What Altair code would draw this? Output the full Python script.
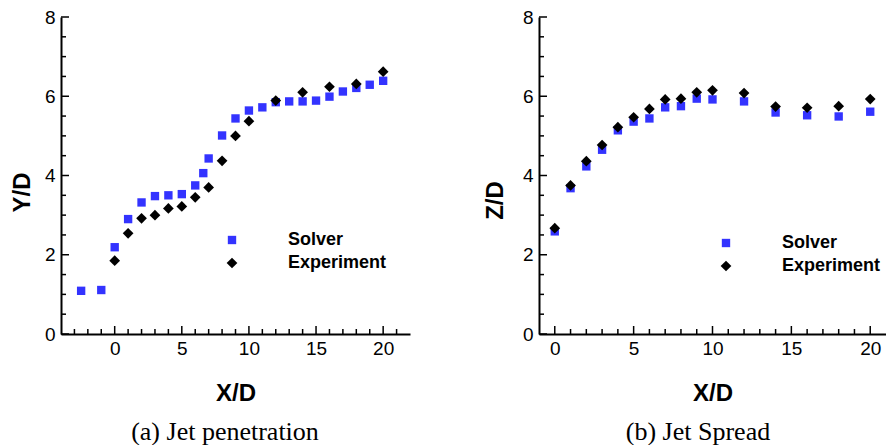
import altair as alt
import pandas as pd

# ---- data ----
pen_solver_x = [-2.5, -1, 0, 1, 2, 3, 4, 5, 6, 6.6, 7, 8, 9, 10, 11, 12, 13, 14, 15, 16, 17, 18, 19, 20]
pen_solver_y = [1.09, 1.11, 2.19, 2.90, 3.32, 3.48, 3.50, 3.53, 3.75, 4.06, 4.43, 5.01, 5.44, 5.64, 5.72, 5.85, 5.87, 5.87, 5.89, 5.99, 6.12, 6.21, 6.29, 6.39]
pen_exp_x = [0, 1, 2, 3, 4, 5, 6, 7, 8, 9, 10, 12, 14, 16, 18, 20]
pen_exp_y = [1.85, 2.54, 2.92, 3.00, 3.17, 3.22, 3.45, 3.70, 4.37, 5.00, 5.37, 5.89, 6.10, 6.24, 6.31, 6.62]

spr_x = [0, 1, 2, 3, 4, 5, 6, 7, 8, 9, 10, 12, 14, 16, 18, 20]
spr_solver_y = [2.59, 3.68, 4.23, 4.65, 5.14, 5.36, 5.44, 5.72, 5.75, 5.94, 5.92, 5.87, 5.59, 5.52, 5.49, 5.61]
spr_exp_y = [2.67, 3.75, 4.36, 4.77, 5.22, 5.47, 5.68, 5.92, 5.94, 6.10, 6.15, 6.08, 5.74, 5.71, 5.75, 5.93]

series_names = ["Solver", "Experiment"]
x_major = [0, 5, 10, 15, 20]
y_major = [0, 2, 4, 6, 8]
y_minor = [0.5, 1, 1.5, 2.5, 3, 3.5, 4.5, 5, 5.5, 6.5, 7, 7.5]
pen_x_minor = [v for v in range(-3, 22) if v % 5 != 0]
spr_x_minor = [v for v in range(0, 21) if v % 5 != 0]

BLUE = "#3333ff"
SANS = "Liberation Sans"
SERIF = "Liberation Serif"
H = 317


def panel(xdom, width, sx, sy, ex, ey, ytitle, ytitle_y, ytitle_pad, caption, cap_x,
          leg_x, leg_text_x, leg_y, xminor):
    xs = alt.Scale(domain=xdom, nice=False, zero=False)
    ys = alt.Scale(domain=[0, 8], nice=False)
    xaxis = alt.Axis(values=x_major, ticks=False, grid=False, domainColor="black",
                     domainWidth=2, labelFont=SANS, labelFontSize=19, labelColor="black",
                     labelPadding=5, title="X/D", titleFont=SANS, titleFontSize=24,
                     titleFontWeight="bold", titleColor="black", titlePadding=23)
    yaxis = alt.Axis(values=y_major, ticks=False, grid=False, domainColor="black",
                     domainWidth=2, labelFont=SANS, labelFontSize=19, labelColor="black",
                     labelPadding=6, title=ytitle, titleFont=SANS, titleFontSize=24,
                     titleFontWeight="bold", titleColor="black", titlePadding=ytitle_pad,
                     titleY=ytitle_y)
    sdf = pd.DataFrame({"x": sx, "y": sy})
    edf = pd.DataFrame({"x": ex, "y": ey})
    solver = alt.Chart(sdf).mark_square(size=70, color=BLUE, opacity=1).encode(
        x=alt.X("x:Q", scale=xs, axis=xaxis), y=alt.Y("y:Q", scale=ys, axis=yaxis))
    exp = alt.Chart(edf).mark_point(shape="diamond", filled=True, size=115,
                                     color="black", opacity=1).encode(
        x=alt.X("x:Q", scale=xs, axis=xaxis), y=alt.Y("y:Q", scale=ys, axis=yaxis))

    def xt(vals, ln):
        return alt.Chart(pd.DataFrame({"v": vals})).mark_rule(color="black", strokeWidth=1.5).encode(
            x=alt.X("v:Q", scale=xs, axis=xaxis), y=alt.value(H), y2=alt.value(H - ln))

    def yt(vals, ln):
        return alt.Chart(pd.DataFrame({"v": vals})).mark_rule(color="black", strokeWidth=1.5).encode(
            y=alt.Y("v:Q", scale=ys, axis=yaxis), x=alt.value(0), x2=alt.value(ln))

    ldf1 = pd.DataFrame({"label": [series_names[0]]})
    ldf2 = pd.DataFrame({"label": [series_names[1]]})
    leg_sq = alt.Chart(ldf1).mark_square(size=70, color=BLUE, opacity=1).encode(
        x=alt.value(leg_x), y=alt.value(leg_y))
    leg_di = alt.Chart(ldf2).mark_point(shape="diamond", filled=True, size=115, color="black",
                                        opacity=1).encode(x=alt.value(leg_x), y=alt.value(leg_y + 23))
    leg_t1 = alt.Chart(ldf1).mark_text(font=SANS, fontSize=18, fontWeight="bold", align="left",
                                       baseline="middle", color="black").encode(
        x=alt.value(leg_text_x), y=alt.value(leg_y), text="label:N")
    leg_t2 = alt.Chart(ldf2).mark_text(font=SANS, fontSize=18, fontWeight="bold", align="left",
                                       baseline="middle", color="black").encode(
        x=alt.value(leg_text_x), y=alt.value(leg_y + 23), text="label:N")
    cap = alt.Chart(pd.DataFrame({"t": [caption]})).mark_text(
        font=SERIF, fontSize=26, align="center", baseline="alphabetic", color="black").encode(
        x=alt.value(cap_x), y=alt.value(423), text="t:N")

    return alt.layer(solver, exp, xt(x_major, 8), xt(xminor, 5), yt(y_major, 8), yt(y_minor, 5),
                     leg_sq, leg_di, leg_t1, leg_t2, cap).properties(width=width, height=H)


left = panel([-4, 22], 349, pen_solver_x, pen_solver_y, pen_exp_x, pen_exp_y,
             "Y/D", 175, 10, "(a) Jet penetration", 164, 171, 227, 223, pen_x_minor)
right = panel([-1, 21], 347, spr_x, spr_solver_y, spr_x, spr_exp_y,
              "Z/D", 183, 15, "(b) Jet Spread", 159, 187, 243, 226, spr_x_minor)

chart = alt.hconcat(left, right, spacing=73).properties(
    padding={"left": 10, "top": 8, "right": 0, "bottom": 0},
    background="white",
).configure_view(stroke=None)

chart.save("out.html", embed_options={"renderer": "svg", "actions": False})
